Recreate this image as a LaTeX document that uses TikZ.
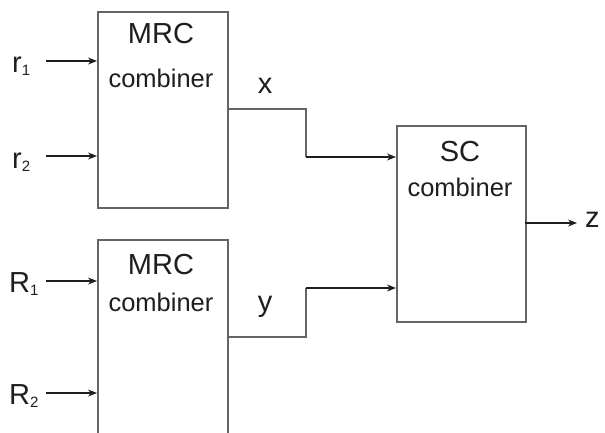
\documentclass[tikz,border=0pt]{standalone}
\usepackage{fontspec}
\setmainfont{Liberation Sans}
\usetikzlibrary{arrows.meta}
\definecolor{boxgray}{RGB}{100,100,100}
\definecolor{inkc}{RGB}{30,30,30}
\tikzset{
  blockbox/.style={draw=boxgray, line width=2pt, minimum width=130pt, inner sep=0pt, anchor=north west},
  bigtxt/.style={font=\fontsize{29}{32}\selectfont, text=inkc, inner sep=0pt},
  midtxt/.style={font=\fontsize{25.5}{28}\selectfont, text=inkc, inner sep=0pt},
  lbl/.style={font=\fontsize{29}{32}\selectfont, text=inkc, inner sep=0pt},
  inarrow/.style={draw=inkc, line width=1.4pt, -{Stealth[length=9pt,width=7pt]}},
  wire/.style={draw=boxgray, line width=2pt},
}
\begin{document}
\begin{tikzpicture}[x=1pt,y=-1pt]
\useasboundingbox (0,0) rectangle (605,432);
\clip (0,0) rectangle (605,432);
% blocks
\node[blockbox, minimum height=196pt] (mrcA) at (97,11) {};
\node[blockbox, minimum height=230pt] (mrcB) at (97,239) {};
\node[blockbox, minimum height=196pt, minimum width=129pt] (sc) at (396,125) {};
% block texts
\node[bigtxt] (mrcAt) at (161,34) {MRC};
\node[midtxt] (mrcAc) at (161,78) {combiner};
\node[bigtxt] (mrcBt) at (161,265) {MRC};
\node[midtxt] (mrcBc) at (161,302) {combiner};
\node[bigtxt] (sct) at (460,152) {SC};
\node[midtxt] (scc) at (460,187) {combiner};
% inputs
\node[lbl, anchor=base west] (r1) at (12,72) {r\textsubscript{\fontsize{15}{15}\selectfont 1}};
\node[lbl, anchor=base west] (r2) at (12,168) {r\textsubscript{\fontsize{15}{15}\selectfont 2}};
\node[lbl, anchor=base west] (R1) at (9,292) {R\textsubscript{\fontsize{15}{15}\selectfont 1}};
\node[lbl, anchor=base west] (R2) at (9,404) {R\textsubscript{\fontsize{15}{15}\selectfont 2}};
\coordinate (r1s) at (46,61);
\coordinate (r2s) at (46,156);
\coordinate (R1s) at (46,281);
\coordinate (R2s) at (46,393);
\draw[inarrow] (r1s) -- (r1s -| mrcA.west);
\draw[inarrow] (r2s) -- (r2s -| mrcA.west);
\draw[inarrow] (R1s) -- (R1s -| mrcB.west);
\draw[inarrow] (R2s) -- (R2s -| mrcB.west);
% outputs
\coordinate (xo) at (227,109);
\coordinate (yo) at (227,337);
\draw[wire] (xo) -- (306,109) -- (306,157);
\draw[inarrow] (306,157) -- (sc.west |- 0,157);
\draw[wire] (yo) -- (306,337) -- (306,288);
\draw[inarrow] (306,288) -- (sc.west |- 0,288);
\node[lbl] (xl) at (265,86) {x};
\node[lbl] (yl) at (265,307) {y};
\coordinate (zs) at (525,223);
\coordinate (ze) at (577,223);
\draw[inarrow] (zs) -- (ze);
\node[lbl, anchor=west] (zl) at (585,220) {z};
\end{tikzpicture}
\end{document}
